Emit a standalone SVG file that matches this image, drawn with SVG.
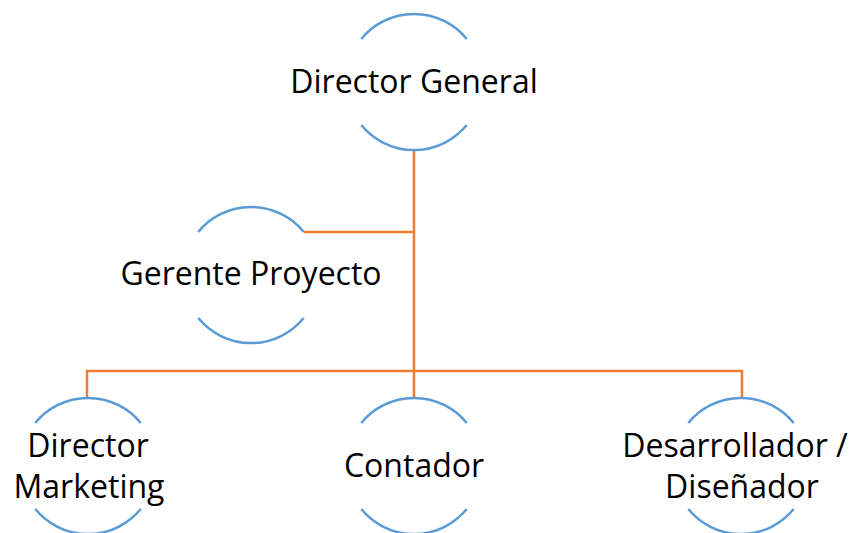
<svg xmlns="http://www.w3.org/2000/svg" xmlns:xlink="http://www.w3.org/1999/xlink" width="858" height="533" viewBox="0 0 858 533">
<style>
.arc{fill:none;stroke:#5B9BD5;stroke-width:2.5}
.conn{fill:none;stroke:#ED7D31;stroke-width:2.5}
.t{font-family:"Open Sans","Liberation Sans",sans-serif;font-size:32px;fill:#000;text-anchor:middle}
</style>
<defs>
<path id="arcs" class="arc" d="M -52.7,-43 A 68 68 0 0 1 52.7,-43 M -52.7,43 A 68 68 0 0 0 52.7,43"/>
</defs>
<rect width="858" height="533" fill="#fff"/>
<g id="connectors">
<path class="conn" d="M414,150 V398"/>
<path class="conn" d="M304,232 H414"/>
<path class="conn" d="M87,398 V371 H742 V398"/>
</g>
<g id="director-general">
<use xlink:href="#arcs" transform="translate(414,82)"/>
<text class="t" x="414" y="93">Director General</text>
</g>
<g id="gerente-proyecto">
<use xlink:href="#arcs" transform="translate(251,275)"/>
<text class="t" x="251" y="285">Gerente Proyecto</text>
</g>
<g id="director-marketing">
<use xlink:href="#arcs" transform="translate(88,466)"/>
<text class="t" x="88" y="457">Director</text>
<text class="t" x="89" y="498">Marketing</text>
</g>
<g id="contador">
<use xlink:href="#arcs" transform="translate(414,466)"/>
<text class="t" x="414" y="477">Contador</text>
</g>
<g id="desarrollador">
<use xlink:href="#arcs" transform="translate(741,466)"/>
<text class="t" x="735" y="457">Desarrollador /</text>
<text class="t" x="742" y="498">Diseñador</text>
</g>
</svg>
